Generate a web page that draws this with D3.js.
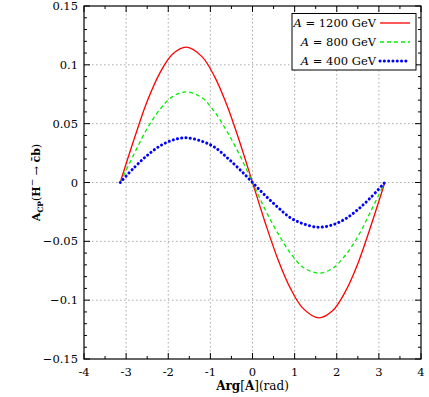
<!DOCTYPE html>
<html>
<head>
<meta charset="utf-8">
<script src="https://cdn.jsdelivr.net/npm/d3@7"></script>
<style>
  body { margin: 0; background: #fff; }
</style>
</head>
<body>
<svg id="chart"></svg>
<script>
// Phase values Arg[A] (rad)
const phase = [-3.14, -2.8, -2.5, -2.2, -1.9, -1.57, -1.2, -0.9, -0.6, -0.3, 0,
               0.3, 0.6, 0.9, 1.2, 1.57, 1.9, 2.2, 2.5, 2.8, 3.14];

// A_CP
const acp1200 = [0, 0.038, 0.069, 0.093, 0.109, 0.115, 0.107, 0.090, 0.065, 0.034, 0,
                 -0.034, -0.065, -0.090, -0.107, -0.115, -0.109, -0.093, -0.069, -0.038, 0];
const acp800 = [0, 0.025, 0.046, 0.062, 0.073, 0.077, 0.072, 0.060, 0.043, 0.023, 0,
                -0.023, -0.043, -0.060, -0.072, -0.077, -0.073, -0.062, -0.046, -0.025, 0];
const acp400 = [0, 0.013, 0.023, 0.031, 0.036, 0.038, 0.035, 0.030, 0.021, 0.011, 0,
                -0.011, -0.021, -0.030, -0.035, -0.038, -0.036, -0.031, -0.023, -0.013, 0];

const seriesNames = ["1200", "800", "400"];

const xTicks = [-4, -3, -2, -1, 0, 1, 2, 3, 4];
const yTicks = [-0.15, -0.1, -0.05, 0, 0.05, 0.1, 0.15];

const W = 429, H = 397;
const margin = {top: 6, right: 8, bottom: 38, left: 84};
const width = W - margin.left - margin.right;
const height = H - margin.top - margin.bottom;
const FONT = '"DejaVu Serif", "Liberation Serif", serif';

const svg = d3.select('#chart').attr('width', W).attr('height', H)
  .attr('font-family', FONT);
const chart = svg.append('g').attr('transform', `translate(${margin.left},${margin.top})`);

const x = d3.scaleLinear().domain([-4, 4]).range([0, width]);
const y = d3.scaleLinear().domain([-0.15, 0.15]).range([height, 0]);

// grid
chart.append('g').selectAll('line.gx')
  .data(xTicks.slice(1, -1)).join('line')
  .attr('x1', d => x(d)).attr('x2', d => x(d))
  .attr('y1', 0).attr('y2', height)
  .attr('stroke', '#aaa').attr('stroke-width', 1).attr('stroke-dasharray', '1.5,2.5');
chart.append('g').selectAll('line.gy')
  .data(yTicks.slice(1, -1)).join('line')
  .attr('x1', 0).attr('x2', width)
  .attr('y1', d => y(d)).attr('y2', d => y(d))
  .attr('stroke', '#aaa').attr('stroke-width', 1).attr('stroke-dasharray', '1.5,2.5');

// ticks on all four sides, pointing inward
const xMinor = d3.range(-3.5, 4, 1);
const yMinor = d3.range(-14, 15).map(d => d / 100).filter(v => Math.abs(Math.round(v * 100) % 5) !== 0);

const tickG = chart.append('g').attr('stroke', '#000').attr('stroke-width', 1);
function xt(vals, len) {
  vals.forEach(v => {
    tickG.append('line').attr('x1', x(v)).attr('x2', x(v)).attr('y1', height).attr('y2', height - len);
    tickG.append('line').attr('x1', x(v)).attr('x2', x(v)).attr('y1', 0).attr('y2', len);
  });
}
function yt(vals, len) {
  vals.forEach(v => {
    tickG.append('line').attr('y1', y(v)).attr('y2', y(v)).attr('x1', 0).attr('x2', len);
    tickG.append('line').attr('y1', y(v)).attr('y2', y(v)).attr('x1', width).attr('x2', width - len);
  });
}
xt(xTicks, 6); xt(xMinor, 3);
yt(yTicks, 6); yt(yMinor, 3);

// tick labels
chart.append('g').selectAll('text')
  .data(xTicks).join('text')
  .attr('x', d => x(d)).attr('y', height + 17)
  .attr('text-anchor', 'middle').style('font-size', '11.5px')
  .text(d => String(d));
chart.append('g').selectAll('text')
  .data(yTicks).join('text')
  .attr('x', -6).attr('y', d => y(d) + 4)
  .attr('text-anchor', 'end').style('font-size', '11.5px')
  .text(d => d === 0 ? '0' : (d < 0 ? '\u2212' : '') + String(Math.abs(d)));

// curves
const line = d3.line().curve(d3.curveCatmullRom.alpha(0.5))
  .x(d => x(d[0])).y(d => y(d[1]));

const series = [
  {name: seriesNames[0], values: acp1200, color: '#ff0000', dash: null, w: 1.3, cap: 'butt'},
  {name: seriesNames[1], values: acp800, color: '#00ee00', dash: '4,3', w: 1.3, cap: 'butt'},
  {name: seriesNames[2], values: acp400, color: '#0000ff', dash: '0.1,4.2', w: 3, cap: 'round'}
];

series.forEach(s => {
  chart.append('path')
    .datum(phase.map((p, i) => [p, s.values[i]]))
    .attr('fill', 'none')
    .attr('stroke', s.color)
    .attr('stroke-width', s.w)
    .attr('stroke-linecap', s.cap)
    .attr('stroke-dasharray', s.dash)
    .attr('d', line);
});

// frame
chart.append('rect').attr('width', width).attr('height', height)
  .attr('fill', 'none').attr('stroke', '#000').attr('stroke-width', 1.2);

// legend
const lg = svg.append('g');
lg.append('rect').attr('x', 292).attr('y', 13.5).attr('width', 124).attr('height', 56.5)
  .attr('fill', '#fff').attr('stroke', '#000').attr('stroke-width', 1);
series.forEach((s, i) => {
  const yy = 23 + i * 19;
  const t = lg.append('text').attr('x', 376).attr('y', yy + 4)
    .attr('text-anchor', 'end').style('font-size', '11.5px');
  t.append('tspan').style('font-style', 'italic').text('A');
  t.append('tspan').text(` = ${s.name} GeV`);
  lg.append('line').attr('x1', 380).attr('x2', 410).attr('y1', yy).attr('y2', yy)
    .attr('stroke', s.color).attr('stroke-width', s.w)
    .attr('stroke-linecap', s.cap).attr('stroke-dasharray', s.dash);
});

// axis titles
const xl = svg.append('text').attr('x', margin.left + x(0)).attr('y', 390)
  .attr('text-anchor', 'middle').style('font-size', '12px');
xl.append('tspan').style('font-weight', 'bold').text('Arg');
xl.append('tspan').text('[');
xl.append('tspan').style('font-weight', 'bold').text('A');
xl.append('tspan').text('](rad)');

const yl = svg.append('text')
  .attr('transform', `translate(40,${margin.top + y(0)}) rotate(-90)`)
  .attr('text-anchor', 'middle').style('font-size', '11px');
yl.append('tspan').style('font-weight', 'bold').text('A');
yl.append('tspan').attr('dy', 3).style('font-weight', 'bold').style('font-size', '7.5px').text('CP');
yl.append('tspan').attr('dy', -3).text('(');
yl.append('tspan').style('font-weight', 'bold').text('H');
yl.append('tspan').attr('dy', -5).style('font-size', '9px').text('\u2212');
yl.append('tspan').attr('dy', 5).text(' \u2192 ');
yl.append('tspan').style('font-weight', 'bold').text('c\u0304b');
yl.append('tspan').text(')');
</script>
</body>
</html>
